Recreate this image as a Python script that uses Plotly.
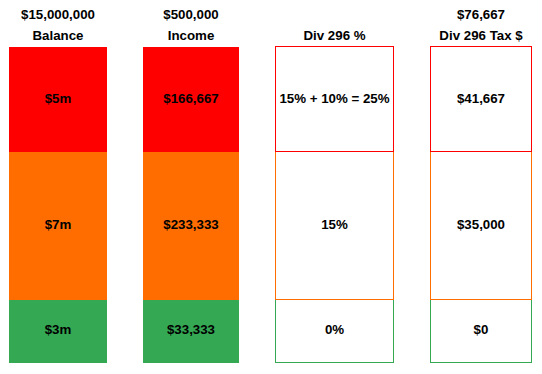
import plotly.graph_objects as go

# ---- data ----
columns = ["Balance", "Income", "Div 296 %", "Div 296 Tax $"]
column_totals = ["$15,000,000", "$500,000", "", "$76,667"]
tiers = ["Below $3m", "$3m to $10m", "Above $10m"]          # bottom -> top
tier_balance_m = [3, 7, 5]                                 # block heights ($m)
tier_colors = ["#34a853", "#ff6d01", "#ff0000"]
tier_labels = [
    ["$3m", "$33,333", "0%", "$0"],
    ["$7m", "$233,333", "15%", "$35,000"],
    ["$5m", "$166,667", "15% + 10% = 25%", "$41,667"],
]
filled = [True, True, False, False]

# ---- layout geometry (pixel space on x) ----
col_x = [58, 191, 334.5, 481]
col_w = [98, 96, 118, 101]

FONT = dict(family="Liberation Sans, Arial, sans-serif", size=13.3, color="black")

fig = go.Figure()
for i, tier in enumerate(tiers):
    fig.add_trace(go.Bar(
        x=col_x, y=[tier_balance_m[i]] * len(columns), width=col_w,
        name=tier,
        marker=dict(
            color=[tier_colors[i] if f else "white" for f in filled],
            line=dict(color=tier_colors[i], width=[0 if f else 1.2 for f in filled]),
        ),
        hoverinfo="skip", showlegend=False,
    ))

# text in the middle of every block
base = 0
for i, tier in enumerate(tiers):
    mid = base + tier_balance_m[i] / 2
    fig.add_trace(go.Scatter(
        x=col_x, y=[mid] * len(columns), mode="text",
        text=[f"<b>{t}</b>" for t in tier_labels[i]],
        textfont=FONT, hoverinfo="skip", showlegend=False,
    ))
    base += tier_balance_m[i]

total = sum(tier_balance_m)
fig.add_trace(go.Scatter(
    x=col_x, y=[total + 0.5] * len(columns), mode="text",
    text=[f"<b>{c}</b>" for c in columns],
    textfont=FONT, hoverinfo="skip", showlegend=False,
))
fig.add_trace(go.Scatter(
    x=col_x, y=[total + 1.48] * len(columns), mode="text",
    text=[f"<b>{c}</b>" if c else "" for c in column_totals],
    textfont=FONT, hoverinfo="skip", showlegend=False,
))

fig.update_layout(
    width=542, height=374,
    margin=dict(l=0, r=0, t=0, b=0),
    barmode="stack", bargap=0,
    paper_bgcolor="white", plot_bgcolor="white",
    xaxis=dict(range=[0, 542], visible=False, fixedrange=True),
    yaxis=dict(range=[-0.537, 17.233], visible=False, fixedrange=True),
    showlegend=False,
)
fig.write_html("out.html", config={"displayModeBar": False})

with open("out.html", encoding="utf-8") as f:
    html = f.read()
html = html.replace("<body>", '<body style="margin:0;padding:0;overflow:hidden">', 1)
with open("out.html", "w", encoding="utf-8") as f:
    f.write(html)
